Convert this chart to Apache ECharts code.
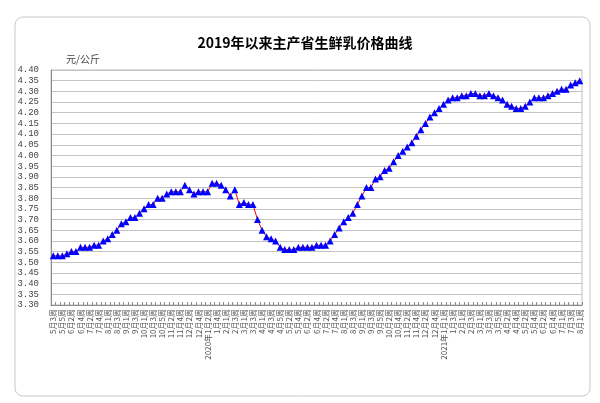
<!DOCTYPE html>
<html>
<head>
<meta charset="utf-8">
<script src="https://cdn.jsdelivr.net/npm/echarts@6/dist/echarts.min.js"></script>
<style>
html,body{margin:0;padding:0;background:#fff;}
#c{width:600px;height:403px;}
</style>
</head>
<body>
<div id="c"></div>
<script>
var titleText = '2019年以来主产省生鲜乳价格曲线';
var unitText = '元/公斤';

var categories = [
 '5月3周','5月4周','5月5周',
 '6月1周','6月2周','6月3周','6月4周',
 '7月1周','7月2周','7月3周','7月4周','7月5周',
 '8月1周','8月2周','8月3周','8月4周',
 '9月1周','9月2周','9月3周','9月4周',
 '10月1周','10月2周','10月3周','10月4周','10月5周',
 '11月1周','11月2周','11月3周','11月4周',
 '12月1周','12月2周','12月3周','12月4周',
 '1月1周','2020年1月2周','1月3周','1月4周','1月5周',
 '2月1周','2月2周','2月3周','2月4周',
 '3月1周','3月2周','3月3周','3月4周',
 '4月1周','4月2周','4月3周','4月4周','4月5周',
 '5月1周','5月2周','5月3周','5月4周',
 '6月1周','6月2周','6月3周','6月4周',
 '7月1周','7月2周','7月3周','7月4周','7月5周',
 '8月1周','8月2周','8月3周','8月4周',
 '9月1周','9月2周','9月3周','9月4周','9月5周',
 '10月1周','10月2周','10月3周','10月4周',
 '11月1周','11月2周','11月3周','11月4周',
 '12月1周','12月2周','12月3周','12月4周','12月5周',
 '2021年1月1周','1月2周','1月3周','1月4周',
 '2月1周','2月2周','2月3周','2月4周',
 '3月1周','3月2周','3月3周','3月4周','3月5周',
 '4月1周','4月2周','4月3周','4月4周',
 '5月1周','5月2周','5月3周','5月4周',
 '6月1周','6月2周','6月3周','6月4周','6月5周',
 '7月1周','7月2周','7月3周','7月4周',
 '8月1周'
];

var prices = [
 3.53,3.53,3.53,
 3.54,3.55,3.55,3.57,
 3.57,3.57,3.58,3.58,3.60,
 3.61,3.63,3.65,3.68,
 3.69,3.71,3.71,3.73,
 3.75,3.77,3.77,3.80,3.80,
 3.82,3.83,3.83,3.83,
 3.86,3.84,3.82,3.83,
 3.83,3.83,3.87,3.87,3.86,
 3.84,3.81,3.84,3.77,
 3.78,3.77,3.77,3.70,
 3.65,3.62,3.61,3.60,3.57,
 3.56,3.56,3.56,3.57,
 3.57,3.57,3.57,3.58,
 3.58,3.58,3.60,3.63,3.66,
 3.69,3.71,3.73,3.77,
 3.81,3.85,3.85,3.89,3.90,
 3.93,3.94,3.97,4.00,
 4.02,4.04,4.06,4.09,
 4.12,4.15,4.18,4.20,4.22,
 4.24,4.26,4.27,4.27,
 4.28,4.28,4.29,4.29,
 4.28,4.28,4.29,4.28,4.27,
 4.26,4.24,4.23,4.22,
 4.22,4.23,4.25,4.27,
 4.27,4.27,4.28,4.29,4.30,
 4.31,4.31,4.33,4.34,
 4.35
];

var yMin = 3.30, yMax = 4.40, yStep = 0.05;

var chart = echarts.init(document.getElementById('c'), null, {renderer:'canvas'});
chart.setOption({
  backgroundColor: '#fff',
  animation: false,
  title: {
    text: titleText,
    left: 300, textAlign: 'center', top: 31,
    textStyle: {fontSize: 14, fontWeight: 'bold', color: '#000', fontFamily: 'Noto Sans CJK SC'}
  },
  graphic: [
    {type: 'rect', z: -10, shape: {x: 15, y: 17, width: 575, height: 379, r: 8},
     style: {fill: '#fff', stroke: '#c8c8c8', lineWidth: 1}},
    {type: 'text', left: 66, top: 54,
     style: {text: unitText, fontSize: 10, fill: '#444', fontFamily: 'Noto Sans CJK SC'}}
  ],
  grid: {left: 51, right: 18, top: 70, bottom: 98, show: true, borderColor: '#bdbdbd', borderWidth: 1},
  xAxis: {
    type: 'category', data: categories, boundaryGap: true,
    axisLine: {lineStyle: {color: '#8c8c8c'}},
    axisTick: {show: true, inside: true, length: 3, interval: 0, lineStyle: {color: '#8c8c8c'}},
    axisLabel: {rotate: 90, interval: 1, fontSize: 8, color: '#555', margin: 4, fontFamily: 'Noto Sans CJK SC'}
  },
  yAxis: {
    type: 'value', min: yMin, max: yMax, interval: yStep,
    axisLine: {show: true, lineStyle: {color: '#8c8c8c'}},
    axisTick: {show: false},
    axisLabel: {fontSize: 9, color: '#444', margin: 12, fontFamily: 'Liberation Mono',
      formatter: function (v) { return v.toFixed(2); }},
    splitLine: {lineStyle: {color: '#c4c4c4', width: 1}}
  },
  series: [{
    type: 'line', data: prices,
    lineStyle: {color: '#ff0000', width: 1},
    symbol: 'triangle', symbolSize: 7,
    itemStyle: {color: '#0000ff'},
    showAllSymbol: true
  }]
});
</script>
</body>
</html>
